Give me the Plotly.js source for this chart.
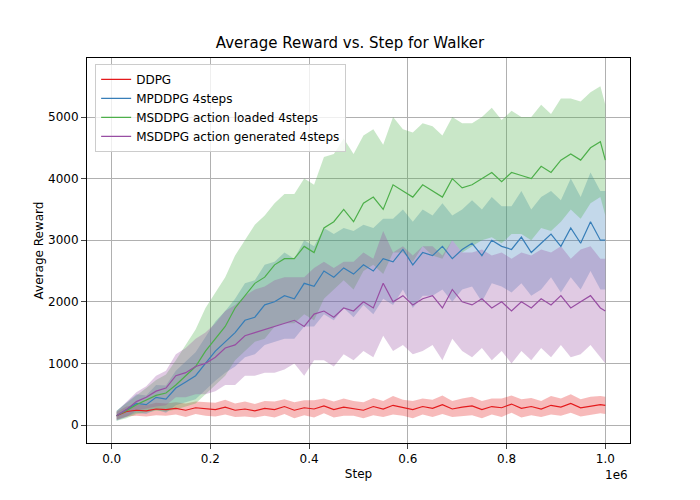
<!DOCTYPE html>
<html><head><script src="https://cdn.plot.ly/plotly-3.0.1.min.js"></script></head>
<body style="margin:0"><div id="c" style="width:700px;height:500px"></div>
<script>
const steps=[0.01,0.03,0.05,0.07,0.09,0.11,0.13,0.15,0.17,0.19,0.21,0.23,0.25,0.27,0.29,0.31,0.33,0.35,0.37,0.39,0.41,0.43,0.45,0.47,0.49,0.51,0.53,0.55,0.57,0.59,0.61,0.63,0.65,0.67,0.69,0.71,0.73,0.75,0.77,0.79,0.81,0.83,0.85,0.87,0.89,0.91,0.93,0.95,0.97,0.99,1.00];
const ddpgMean=[150,220,240,230,260,250,270,240,280,260,250,290,240,260,230,270,250,300,240,280,260,310,250,290,270,240,300,260,320,280,250,300,270,330,260,290,310,250,300,280,340,270,300,260,320,290,350,280,310,330,320];
const ddpgStd=[60,80,90,90,100,100,100,110,100,110,110,120,110,120,110,120,130,120,130,120,140,120,130,140,120,130,140,130,150,130,140,130,140,150,130,140,150,140,130,150,140,150,140,130,150,140,150,140,150,140,140];
const mpMean=[150,250,350,330,450,420,600,700,800,1000,1200,1350,1500,1700,1750,1950,2000,2100,2050,2300,2250,2500,2400,2550,2450,2600,2500,2700,2650,2850,2600,2800,2750,2900,2700,2850,2950,2750,3000,2900,2850,3050,2800,2950,3100,2900,3200,2950,3300,3000,3000];
const mpStd=[80,120,150,150,200,220,280,330,380,430,480,500,550,600,600,650,650,700,650,700,650,700,700,650,700,650,700,650,700,650,700,700,650,700,700,650,700,750,700,650,700,750,700,750,700,750,800,750,800,800,800];
const loadMean=[150,230,330,400,480,520,650,800,950,1200,1400,1600,1900,2100,2300,2400,2600,2700,2700,2900,2800,3200,3300,3500,3300,3600,3700,3500,3900,3800,3700,3900,3800,3700,4000,3850,3900,4000,4100,3950,4100,4050,4000,4200,4100,4300,4400,4300,4500,4600,4300];
const loadStd=[80,120,150,200,250,300,400,500,600,700,750,800,850,900,950,1000,1000,1050,1050,1100,1100,1150,1100,1150,1100,1100,1100,1050,1100,1000,1050,1000,1050,1000,1000,1050,1000,1000,1050,1000,1000,950,1000,1000,950,1000,900,950,900,900,900];
const genMean=[150,250,380,450,550,600,800,850,950,1000,1100,1250,1300,1450,1500,1550,1600,1650,1700,1600,1800,1850,1750,1900,1850,2000,1900,2300,2000,2100,1950,2050,2100,1900,2200,2000,1950,2050,1900,2000,1850,2000,1900,2050,1950,2100,1900,2000,2100,1900,1850];
const genStd=[70,120,150,180,250,280,350,400,450,500,550,600,650,650,700,700,750,750,700,800,750,800,800,750,800,800,800,850,800,800,800,850,800,850,800,800,850,800,850,800,850,800,850,800,850,800,800,850,800,800,850];
const series=[
 {name:'DDPG',m:ddpgMean,s:ddpgStd,c:'#e41a1c',f:'rgba(228,26,28,0.3)'},
 {name:'MPDDPG 4steps',m:mpMean,s:mpStd,c:'#377eb8',f:'rgba(55,126,184,0.3)'},
 {name:'MSDDPG action loaded 4steps',m:loadMean,s:loadStd,c:'#4daf4a',f:'rgba(77,175,74,0.3)'},
 {name:'MSDDPG action generated 4steps',m:genMean,s:genStd,c:'#984ea3',f:'rgba(152,78,163,0.3)'}];
const traces=[];
series.forEach(o=>{
 traces.push({x:steps,y:o.m.map((v,i)=>v-o.s[i]),mode:'lines',line:{width:0},showlegend:false,hoverinfo:'skip'});
 traces.push({x:steps,y:o.m.map((v,i)=>v+o.s[i]),mode:'lines',line:{width:0},fill:'tonexty',fillcolor:o.f,showlegend:false,hoverinfo:'skip'});
});
series.forEach(o=>traces.push({x:steps,y:o.m,mode:'lines',name:o.name,line:{color:o.c,width:1.2}}));
const ax={showline:true,mirror:true,linecolor:'black',linewidth:1,ticks:'outside',gridcolor:'#b0b0b0',zeroline:false,tickfont:{size:12,color:'black'}};
Plotly.newPlot('c',traces,{
 width:700,height:500,paper_bgcolor:'white',plot_bgcolor:'white',
 font:{family:'DejaVu Sans',color:'black'},
 margin:{l:87,r:70,t:58,b:57},
 title:{text:'Average Reward vs. Step for Walker',font:{size:15},x:0.5,y:0.925,xanchor:'center'},
 xaxis:Object.assign({},ax,{range:[-0.05,1.05],tickvals:[0,0.2,0.4,0.6,0.8,1.0],ticktext:['0.0','0.2','0.4','0.6','0.8','1.0'],title:{text:'Step',font:{size:12},standoff:4}}),
 yaxis:Object.assign({},ax,{range:[-292,5958],tickvals:[0,1000,2000,3000,4000,5000],title:{text:'Average Reward',font:{size:12}}}),
 legend:{x:0.015,y:0.985,xanchor:'left',yanchor:'top',traceorder:'normal',tracegroupgap:0,bordercolor:'#ccc',borderwidth:1,bgcolor:'rgba(255,255,255,0.8)',font:{size:12}},
 annotations:[{text:'1e6',xref:'paper',yref:'paper',x:1,y:-0.06,xanchor:'right',yanchor:'top',showarrow:false,font:{size:12}}]
},{displayModeBar:false});
</script></body></html>
